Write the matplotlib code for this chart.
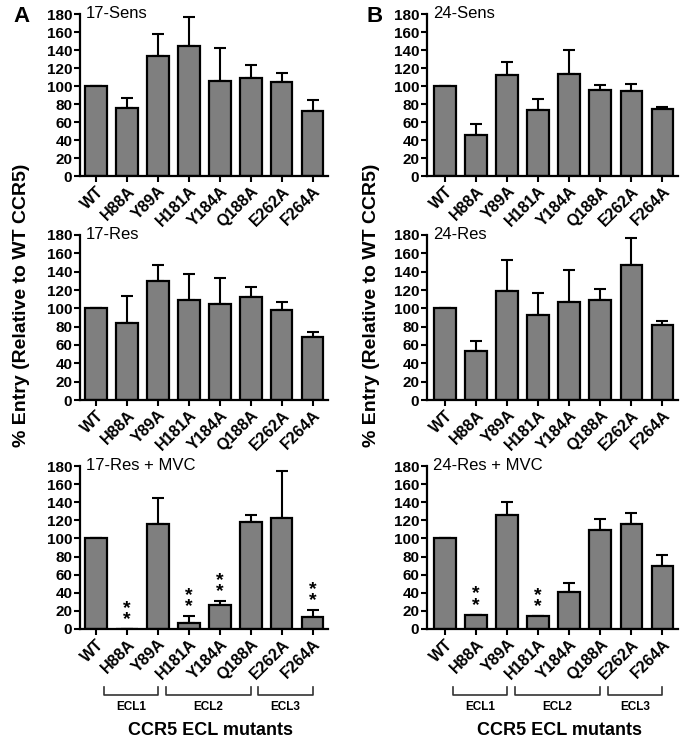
import numpy as np
import matplotlib
matplotlib.use('Agg')
import matplotlib.pyplot as plt
import matplotlib.transforms as mtransforms

plt.rcParams['font.family'] = ['Liberation Sans', 'DejaVu Sans']

mutants = ['WT', 'H88A', 'Y89A', 'H181A', 'Y184A', 'Q188A', 'E262A', 'F264A']

# means and upper error (SEM)
sens17 = [100, 76, 133, 145, 106, 109, 105, 72]
sens17_err = [0, 11, 25, 32, 36, 14, 9, 13]
res17 = [100, 84, 130, 109, 105, 112, 98, 69]
res17_err = [0, 30, 17, 28, 28, 11, 9, 5]
mvc17 = [100, 0, 116, 7, 26, 118, 123, 13]
mvc17_err = [0, 0, 29, 7, 5, 8, 51, 8]
sig17 = [1, 3, 4, 7]  # bars marked **

sens24 = [100, 46, 112, 73, 113, 96, 95, 75]
sens24_err = [0, 12, 15, 13, 27, 5, 7, 2]
res24 = [100, 53, 119, 93, 107, 109, 147, 82]
res24_err = [0, 11, 34, 24, 35, 12, 30, 4]
mvc24 = [100, 15, 126, 14, 41, 109, 116, 70]
mvc24_err = [0, 1, 14, 0.5, 10, 12, 12, 12]
sig24 = [1, 3]

loops = ['ECL1', 'ECL2', 'ECL3']
loop_first = [1, 3, 6]
loop_last = [2, 5, 7]

fig = plt.figure(figsize=(6.85, 7.44), dpi=100)

col_left = [80 / 685, 427 / 685]
col_w = [248 / 685, 251 / 685]
row_bottom = [1 - 176 / 744, 1 - 400 / 744, 1 - 629 / 744]
row_h = [162 / 744, 165 / 744, 163 / 744]


def bar_panel(ax, vals, errs, title, xmin):
    x = np.arange(len(mutants))
    ax.bar(x, vals, width=0.7, color='#7f7f7f', edgecolor='black', linewidth=1.6, zorder=2)
    lower = np.zeros(len(vals))
    ax.errorbar(x, vals, yerr=[lower, errs], fmt='none', ecolor='black',
                elinewidth=1.5, capsize=4, capthick=1.5, zorder=1)
    ax.set_ylim(0, 180)
    ax.set_xlim(xmin, 7.5)
    ax.set_yticks(range(0, 181, 20))
    ax.set_xticks(x)
    ax.set_xticklabels(mutants, rotation=45, ha='right', rotation_mode='anchor')
    for s in ['top', 'right']:
        ax.spines[s].set_visible(False)
    for s in ['left', 'bottom']:
        ax.spines[s].set_linewidth(1.6)
    ax.tick_params(width=1.5, length=4, labelsize=11, pad=1.5)
    ax.tick_params(axis='x', labelsize=11.5)
    for lbl in ax.get_xticklabels() + ax.get_yticklabels():
        lbl.set_fontweight('bold')
    ax.text(0.025, 1.0, title, transform=ax.transAxes, fontsize=12, va='center', ha='left')


def add_stars(ax, vals, errs, idx):
    for i in idx:
        ax.text(i, vals[i] + errs[i] + 1, '*\n*', ha='center', va='bottom',
                fontsize=14, fontweight='bold', linespacing=0.55)


def add_loops(ax):
    trans = mtransforms.blended_transform_factory(ax.transData, ax.transAxes)
    for name, a, b in zip(loops, loop_first, loop_last):
        x0 = a - 0.75
        ax.plot([x0, x0, b, b], [-0.355, -0.405, -0.405, -0.355], color='#333333',
                lw=1.2, transform=trans, clip_on=False)
        ax.text((x0 + b) / 2, -0.48, name, transform=trans, ha='center', va='center',
                fontsize=8.5, fontweight='bold')
    ax.text(3.7, -0.625, 'CCR5 ECL mutants', transform=trans, ha='center', va='center',
            fontsize=13, fontweight='bold')


panels = [
    [(sens17, sens17_err, '17-Sens'), (res17, res17_err, '17-Res'), (mvc17, mvc17_err, '17-Res + MVC')],
    [(sens24, sens24_err, '24-Sens'), (res24, res24_err, '24-Res'), (mvc24, mvc24_err, '24-Res + MVC')],
]
xmins = [-0.52, -0.58]
sigs = [sig17, sig24]

for c in range(2):
    for r in range(3):
        ax = fig.add_axes([col_left[c], row_bottom[r], col_w[c], row_h[r]])
        vals, errs, title = panels[c][r]
        bar_panel(ax, vals, errs, title, xmins[c])
        if r == 2:
            add_stars(ax, vals, errs, sigs[c])
            add_loops(ax)

fig.text(22 / 685, 1 - 305 / 744, '% Entry (Relative to WT CCR5)', rotation=90,
         ha='center', va='center', fontsize=14, fontweight='bold')
fig.text(372 / 685, 1 - 305 / 744, '% Entry (Relative to WT CCR5)', rotation=90,
         ha='center', va='center', fontsize=14, fontweight='bold')
fig.text(22 / 685, 1 - 16 / 744, 'A', ha='center', va='center', fontsize=16, fontweight='bold')
fig.text(375 / 685, 1 - 16 / 744, 'B', ha='center', va='center', fontsize=16, fontweight='bold')

fig.savefig('out.png', dpi=100)
